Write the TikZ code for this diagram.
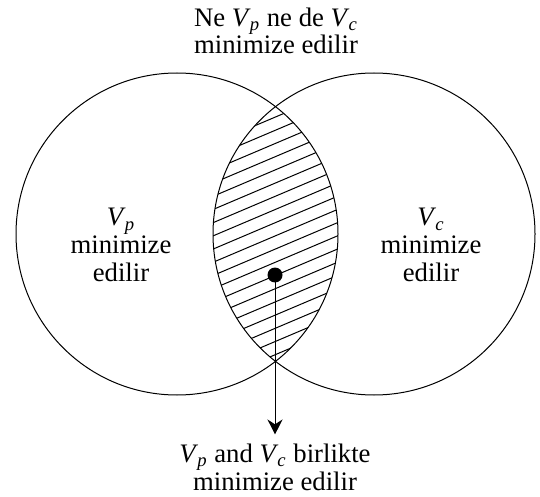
\documentclass[tikz,border=0pt]{standalone}
\usepackage{fontspec}
\setmainfont{Liberation Serif}
\usetikzlibrary{arrows.meta, positioning}
\newcommand{\Vp}{\textit{V}\kern-0.5pt\textsubscript{\textit{p}}}
\newcommand{\Vc}{\textit{V}\kern-0.5pt\textsubscript{\textit{c}}}
\tikzset{
  venn circle/.style={draw=black, line width=0.5pt},
  hatch line/.style={draw=black, line width=0.5pt},
  set label/.style={
    align=center,
    font=\fontsize{13.35pt}{13.8pt}\selectfont,
    inner sep=0pt
  },
  join dot/.style={circle, fill=black, inner sep=0pt, minimum size=7.5pt},
  down arrow/.style={-{Stealth[length=7.5pt, width=7.5pt]}, line width=0.5pt}
}
\begin{document}
\begin{tikzpicture}[x=0.5pt, y=-0.5pt]
  \useasboundingbox (0,0) rectangle (540,497);
  \coordinate (cp) at (177,234);
  \coordinate (cc) at (374,234);

  % hatched overlap
  \begin{scope}
    \clip (cp) circle[radius=161];
    \clip (cc) circle[radius=161];
    \foreach \k in {-13,...,13}
      \draw[hatch line] (175,{278.45+13.2*\k}) -- (375,{193.55+13.2*\k});
  \end{scope}

  \draw[venn circle] (cp) circle[radius=161];
  \draw[venn circle] (cc) circle[radius=161];

  \node[set label, anchor=base] (neither) at (276,54) {Ne \Vp{} ne de \Vc\\minimize edilir};
  \node[set label, anchor=base] (onlyp) at (121,281) {\Vp\\minimize\\edilir};
  \node[set label, anchor=base] (onlyc) at (431,281) {\Vc\\minimize\\edilir};
  \node[join dot] (dot) at (275,275) {};
  \node[set label, anchor=base] (both) at (275,490) {\Vp{} and \Vc{} birlikte\\minimize edilir};

  \draw[down arrow, shorten >=4.5pt] (dot.center) -- (both);
\end{tikzpicture}
\end{document}
